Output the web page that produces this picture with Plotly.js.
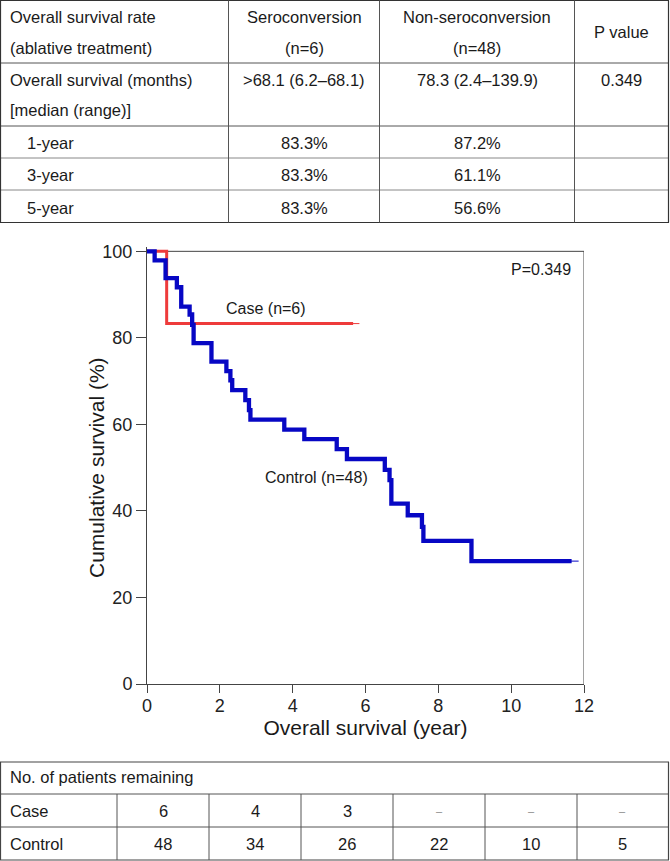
<!DOCTYPE html>
<html>
<head>
<meta charset="utf-8">
<script src="https://cdn.plot.ly/plotly-3.0.1.min.js"></script>
<style>
html,body{margin:0;padding:0;background:#fff;}
#chart{width:670px;height:861px;}
</style>
</head>
<body>
<div id="chart"></div>
<script>
// ---------- data ----------
const caseTime = [0, 0.54, 5.66];
const caseSurv = [100, 83.3, 83.3];
const controlTime = [0, 0.21, 0.51, 0.82, 0.94, 1.17, 1.24, 1.28, 1.77, 2.18, 2.29, 2.34, 2.70, 2.80, 2.84, 3.77, 4.32, 5.21, 5.49, 6.53, 6.66, 6.71, 7.16, 7.55, 7.59, 8.91, 11.66];
const controlSurv = [100, 97.9, 93.8, 91.7, 87.2, 85.4, 83.0, 78.8, 74.5, 72.3, 70.2, 67.9, 65.6, 63.3, 61.1, 58.8, 56.6, 54.3, 52.0, 49.5, 47.1, 41.7, 39.0, 36.3, 33.1, 28.4, 28.4];
const caseCensorT = [5.66], caseCensorS = [83.3];
const controlCensorT = [11.66], controlCensorS = [28.4];
const xTicks = [0, 2, 4, 6, 8, 10, 12];
const yTicks = [0, 20, 40, 60, 80, 100];
const caseLabel = "Case (n=6)";
const controlLabel = "Control (n=48)";
const pLabel = "P=0.349";
const xTitle = "Overall survival (year)";
const yTitle = "Cumulative survival (%)";

// top table
const headerLine1 = ["Overall survival rate", "Seroconversion", "Non-seroconversion"];
const headerLine2 = ["(ablative treatment)", "(n=6)", "(n=48)"];
const pHeader = "P value";
const osLabel = ["Overall survival (months)", "[median (range)]"];
const osValues = [">68.1 (6.2\u201368.1)", "78.3 (2.4\u2013139.9)", "0.349"];
const rateLabels = ["1-year", "3-year", "5-year"];
const caseRates = ["83.3%", "83.3%", "83.3%"];
const controlRates = ["87.2%", "61.1%", "56.6%"];

// risk table
const riskTitle = "No. of patients remaining";
const riskGroups = ["Case", "Control"];
const caseAtRisk = ["6", "4", "3", "\u2013", "\u2013", "\u2013"];
const controlAtRisk = ["48", "34", "26", "22", "10", "5"];

// ---------- layout helpers (pixel -> paper) ----------
const W = 670, H = 861;
const mL = 147, mR = 86, mT = 247, mB = 177;
const pw = W - mL - mR, ph = H - mT - mB;
const X = px => (px - mL) / pw;
const Y = py => (H - mB - py) / ph;

const FONT = "Liberation Sans, Arial, sans-serif";
const TS = 16.5;
const shapes = [];
const annotations = [];
function hline(x0, x1, y, color, w) {
  shapes.push({type: "line", xref: "paper", yref: "paper", x0: X(x0), x1: X(x1), y0: Y(y), y1: Y(y),
    line: {color: color || "#444", width: w || 1}});
}
function vline(x, y0, y1, color, w) {
  shapes.push({type: "line", xref: "paper", yref: "paper", x0: X(x), x1: X(x), y0: Y(y0), y1: Y(y1),
    line: {color: color || "#444", width: w || 1}});
}
function txt(text, x, y, anchor, size, color) {
  annotations.push({text: text, xref: "paper", yref: "paper", x: X(x), y: Y(y),
    xanchor: anchor || "center", yanchor: "middle", showarrow: false,
    font: {family: FONT, size: size || TS, color: color || "#1a1a1a"}});
}

// ---------- top table ----------
const tCols = [0.5, 228.5, 379.5, 574.5, 668.5];
const tRows = [0.5, 63, 126, 158, 190, 222.5];
hline(0, 669, tRows[0], "#333", 1.2);
hline(0, 669, tRows[1], "#555");
hline(0, 669, tRows[2], "#555");
hline(0, 669, tRows[3], "#888");
hline(0, 669, tRows[4], "#888");
hline(0, 669, tRows[5], "#333", 1.2);
tCols.forEach((c, i) => vline(c, tRows[0], tRows[5], (i === 0 || i === 4) ? "#333" : "#555", (i === 0 || i === 4) ? 1.2 : 1));
const colCenters = [(tCols[1] + tCols[2]) / 2, (tCols[2] + tCols[3]) / 2, (tCols[3] + tCols[4]) / 2];
txt(headerLine1[0], 8, 17, "left");
txt(headerLine2[0], 8, 48, "left");
txt(headerLine1[1], colCenters[0], 17);
txt(headerLine2[1], colCenters[0], 48);
txt(headerLine1[2], colCenters[1], 17);
txt(headerLine2[2], colCenters[1], 48);
txt(pHeader, colCenters[2], 32);
txt(osLabel[0], 8, 80, "left");
txt(osLabel[1], 8, 110, "left");
osValues.forEach((v, i) => txt(v, colCenters[i], 80));
const rateY = [143, 175, 208];
rateLabels.forEach((l, i) => {
  txt(l, 25, rateY[i], "left");
  txt(caseRates[i], colCenters[0], rateY[i]);
  txt(controlRates[i], colCenters[1], rateY[i]);
});

// ---------- risk table ----------
const rCols = [0.5, 117, 209, 301, 393, 485, 577, 668.5];
const rRows = [762, 794, 827, 860];
hline(0, 669, rRows[0], "#444", 1.2);
hline(0, 669, rRows[1], "#555");
hline(0, 669, rRows[2], "#555");
hline(0, 669, rRows[3], "#444", 1.2);
vline(rCols[0], rRows[0], rRows[3], "#444", 1.2);
vline(rCols[7], rRows[0], rRows[3], "#444", 1.2);
for (let i = 1; i < 7; i++) vline(rCols[i], rRows[1], rRows[3], "#555");
txt(riskTitle, 8, 777, "left");
txt(riskGroups[0], 8, 811, "left");
txt(riskGroups[1], 8, 844, "left");
for (let i = 0; i < 6; i++) {
  const cx = (rCols[i + 1] + rCols[i + 2]) / 2;
  const isDash = caseAtRisk[i] === "\u2013";
  txt(caseAtRisk[i], cx, 811, "center", isDash ? 11 : TS, isDash ? "#888" : "#1a1a1a");
  txt(controlAtRisk[i], cx, 844, "center");
}

// ---------- plot frame (top & right) ----------
shapes.push({type: "line", xref: "x", yref: "y", x0: 0, x1: 12, y0: 100, y1: 100, layer: "below", line: {color: "#444", width: 1}});
shapes.push({type: "line", xref: "x", yref: "y", x0: 12, x1: 12, y0: 0, y1: 100, layer: "below", line: {color: "#444", width: 1}});

// ---------- in-plot labels ----------
annotations.push({text: caseLabel, xref: "x", yref: "y", x: (266 - mL) / pw * 12, y: (684 - 308) / 4.33,
  xanchor: "center", yanchor: "middle", showarrow: false, font: {family: FONT, size: 16, color: "#1a1a1a"}});
annotations.push({text: controlLabel, xref: "x", yref: "y", x: (316 - mL) / pw * 12, y: (684 - 477) / 4.33,
  xanchor: "center", yanchor: "middle", showarrow: false, font: {family: FONT, size: 16, color: "#1a1a1a"}});
annotations.push({text: pLabel, xref: "x", yref: "y", x: (573 - mL) / pw * 12, y: (684 - 269) / 4.33,
  xanchor: "right", yanchor: "middle", showarrow: false, font: {family: FONT, size: 16, color: "#1a1a1a"}});
// y-axis title (placed close to the tick labels, as in the reference)
annotations.push({text: yTitle, xref: "paper", yref: "paper", x: X(96), y: Y(468), textangle: -90,
  xanchor: "center", yanchor: "middle", showarrow: false, font: {family: FONT, size: 21, color: "#1a1a1a"}});

// ---------- traces ----------
const traces = [
  {x: caseTime, y: caseSurv, mode: "lines", line: {shape: "hv", color: "#ee3b3b", width: 3}, hoverinfo: "skip"},
  {x: caseCensorT, y: caseCensorS, mode: "markers", marker: {symbol: "line-ew-open", size: 9, color: "#ee3b3b", line: {color: "#ee3b3b", width: 1}}, hoverinfo: "skip"},
  {x: controlTime, y: controlSurv, mode: "lines", line: {shape: "hv", color: "#0707c4", width: 4.3}, hoverinfo: "skip"},
  {x: controlCensorT, y: controlCensorS, mode: "markers", marker: {symbol: "line-ew-open", size: 10, color: "#0707c4", line: {color: "#0707c4", width: 1}}, hoverinfo: "skip"}
];

const layout = {
  width: W, height: H,
  margin: {l: mL, r: mR, t: mT, b: mB, pad: 0},
  paper_bgcolor: "#fff", plot_bgcolor: "#fff",
  showlegend: false,
  font: {family: FONT, color: "#1a1a1a"},
  xaxis: {
    range: [0, 12], tickvals: xTicks, ticktext: xTicks.map(String),
    showgrid: false, zeroline: false, showline: true, linecolor: "#444", linewidth: 1,
    ticks: "outside", ticklen: 8, tickcolor: "#444", tickwidth: 1,
    tickfont: {family: FONT, size: 18, color: "#222"}, ticklabelstandoff: -3,
    title: {text: xTitle, font: {family: FONT, size: 21, color: "#1a1a1a"}, standoff: 4},
    fixedrange: true
  },
  yaxis: {
    range: [0, 101], tickvals: yTicks, ticktext: yTicks.map(String),
    showgrid: false, zeroline: false, showline: true, linecolor: "#444", linewidth: 1,
    ticks: "outside", ticklen: 10, tickcolor: "#444", tickwidth: 1,
    tickfont: {family: FONT, size: 18, color: "#222"},
    fixedrange: true
  },
  shapes: shapes,
  annotations: annotations
};

Plotly.newPlot("chart", traces, layout, {displayModeBar: false, staticPlot: true});
</script>
</body>
</html>
